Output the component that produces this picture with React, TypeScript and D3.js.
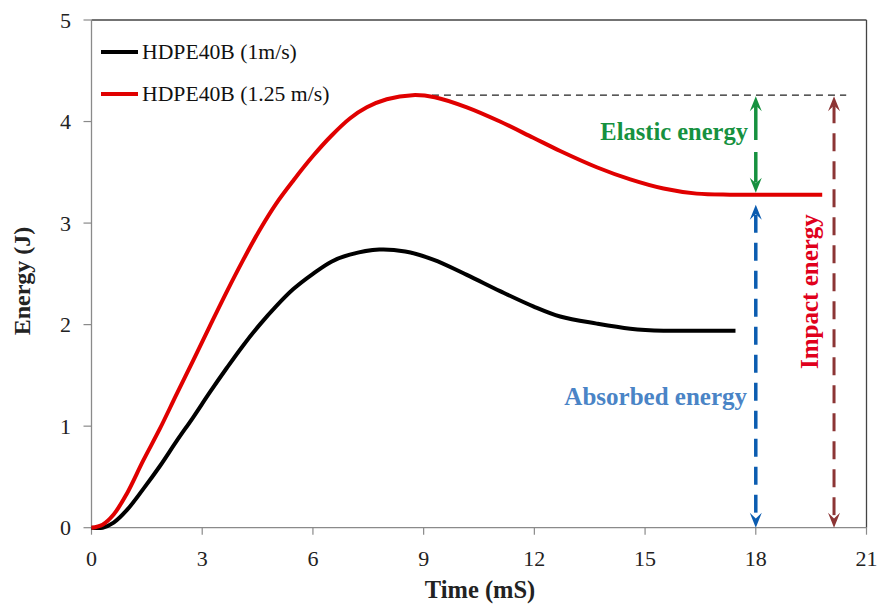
import React from "react";
import * as d3 from "d3";

const timeRed = [0, 0.3, 0.6, 0.95, 1.4, 1.86, 2.3, 2.76, 3.2, 3.66, 4.1, 4.57, 5.0, 5.47, 6.0, 6.5, 7.0, 7.46, 8.0, 8.7, 9.3, 10.17, 11.07, 11.97, 12.7, 13.69, 14.6, 15.5, 16.4, 17.3, 18.0, 19.0, 19.8];
const energyRed = [0, 0.03, 0.13, 0.33, 0.66, 0.98, 1.31, 1.65, 1.98, 2.32, 2.63, 2.94, 3.19, 3.42, 3.66, 3.86, 4.03, 4.14, 4.22, 4.26, 4.24, 4.14, 4.0, 3.84, 3.71, 3.55, 3.43, 3.34, 3.29, 3.28, 3.28, 3.28, 3.28];

const timeBlack = [0, 0.3, 0.6, 0.95, 1.4, 1.86, 2.3, 2.76, 3.2, 3.66, 4.1, 4.56, 5.0, 5.47, 6.0, 6.5, 7.0, 7.8, 8.5, 9.26, 10.17, 11.07, 11.97, 12.7, 13.69, 14.6, 15.5, 16.4, 17.45];
const energyBlack = [0, 0.0, 0.05, 0.17, 0.38, 0.61, 0.85, 1.09, 1.33, 1.57, 1.79, 2.0, 2.18, 2.35, 2.5, 2.62, 2.69, 2.74, 2.72, 2.64, 2.49, 2.33, 2.18, 2.08, 2.01, 1.96, 1.94, 1.94, 1.94];

const xTicks = [0, 3, 6, 9, 12, 15, 18, 21];
const yTicks = [0, 1, 2, 3, 4, 5];
const seriesNames = ["HDPE40B (1m/s)", "HDPE40B (1.25 m/s)"];

// annotation values
const peakEnergy = 4.26;
const residualEnergy = 3.28;
const annotTime = 18;
const impactTime = 20.12;
const dashStart = 8.9;
const dashEnd = 20.45;

const W = 877, H = 605;
const left = 91.5, right = 866.5, top = 20, bottom = 527.7;
const serif = "Liberation Serif, Times New Roman, DejaVu Serif, serif";

function stealth(x: number, y: number, dir: number, color: string, w = 12, l = 15) {
  const b = y - dir * l;
  const n = y - dir * l * 0.62;
  return <path d={`M${x},${y} L${x - w / 2},${b} L${x},${n} L${x + w / 2},${b} Z`} fill={color} />;
}

export default function App() {
  const x = d3.scaleLinear().domain([0, 21]).range([left, right]);
  const y = d3.scaleLinear().domain([0, 5]).range([bottom, top]);
  const line = d3.line<[number, number]>().x(d => x(d[0])).y(d => y(d[1])).curve(d3.curveCatmullRom.alpha(0.5));
  const red = line(timeRed.map((t, i) => [t, energyRed[i]]) as [number, number][]) || "";
  const black = line(timeBlack.map((t, i) => [t, energyBlack[i]]) as [number, number][]) || "";

  const green = "#16913f";
  const blue = "#0b5cb0";
  const brown = "#8c3535";
  const ax = x(annotTime);
  const ix = x(impactTime);
  const tf: React.CSSProperties = { fontFamily: serif };

  return (
    <svg width={W} height={H} style={{ position: "absolute", left: 0, top: 0, background: "#fff", fontFamily: serif }}>
      <rect width={W} height={H} fill="#fff" />
      <line x1={left} x2={right} y1={top} y2={top} stroke="#444" strokeWidth={1.3} />
      <line x1={right} x2={right} y1={top} y2={bottom} stroke="#444" strokeWidth={1.3} />
      <line x1={left} x2={left} y1={top} y2={bottom} stroke="#8a8a8a" strokeWidth={1.3} />
      <line x1={left} x2={right} y1={bottom} y2={bottom} stroke="#8a8a8a" strokeWidth={1.3} />
      {yTicks.map(v => (
        <g key={"y" + v}>
          <line x1={left - 8} x2={left} y1={y(v)} y2={y(v)} stroke="#8a8a8a" strokeWidth={1.2} />
          <text x={71} y={y(v)} textAnchor="end" dominantBaseline="central" fontSize={22} fill="#222" style={tf}>{v}</text>
        </g>
      ))}
      {xTicks.map(v => (
        <g key={"x" + v}>
          <line x1={x(v)} x2={x(v)} y1={bottom} y2={bottom + 7} stroke="#8a8a8a" strokeWidth={1.2} />
          <text x={x(v)} y={566} textAnchor="middle" fontSize={22} fill="#222" style={tf}>{v}</text>
        </g>
      ))}
      <text x={480} y={598} textAnchor="middle" fontSize={24.5} fontWeight="bold" fill="#222" style={tf}>Time (mS)</text>
      <text transform={`translate(30,281) rotate(-90)`} textAnchor="middle" fontSize={24} fontWeight="bold" fill="#222" style={tf}>Energy (J)</text>

      <line x1={x(dashStart)} x2={x(dashEnd)} y1={y(peakEnergy)} y2={y(peakEnergy)} stroke="#222" strokeWidth={1.4} strokeDasharray="7,5" />

      <path d={black} fill="none" stroke="#000" strokeWidth={4} />
      <path d={red} fill="none" stroke="#e00000" strokeWidth={4} />

      <line x1={ax} x2={ax} y1={140} y2={y(peakEnergy) + 10} stroke={green} strokeWidth={3.5} />
      {stealth(ax, y(peakEnergy) + 1, -1, green)}
      <line x1={ax} x2={ax} y1={152} y2={y(residualEnergy) - 12} stroke={green} strokeWidth={3.5} />
      {stealth(ax, y(residualEnergy) - 2, 1, green)}
      <text x={748} y={140} textAnchor="end" fontSize={24.5} fontWeight="bold" fill={green} style={tf}>Elastic energy</text>

      <line x1={ax} x2={ax} y1={y(residualEnergy) + 20} y2={bottom - 10} stroke={blue} strokeWidth={3.5} strokeDasharray="18,10" />
      {stealth(ax, y(residualEnergy) + 10, -1, blue)}
      {stealth(ax, bottom, 1, blue)}
      <text x={747} y={405} textAnchor="end" fontSize={25} fontWeight="bold" fill="#4a84c6" style={tf}>Absorbed energy</text>

      <line x1={ix} x2={ix} y1={y(peakEnergy) + 10} y2={bottom - 10} stroke={brown} strokeWidth={3} strokeDasharray="18,10" />
      {stealth(ix, y(peakEnergy) + 1, -1, brown)}
      {stealth(ix, bottom, 1, brown)}
      <text transform={`translate(818,369) rotate(-90)`} textAnchor="start" fontSize={25} fontWeight="bold" fill="#e0001c" style={tf}>Impact energy</text>

      <line x1={101} x2={138} y1={52} y2={52} stroke="#000" strokeWidth={4} />
      <text x={142} y={52} dominantBaseline="central" fontSize={21.7} fill="#111" style={tf}>{seriesNames[0]}</text>
      <line x1={101} x2={138} y1={94} y2={94} stroke="#e00000" strokeWidth={4} />
      <text x={142} y={94} dominantBaseline="central" fontSize={21.7} fill="#111" style={tf}>{seriesNames[1]}</text>
    </svg>
  );
}
